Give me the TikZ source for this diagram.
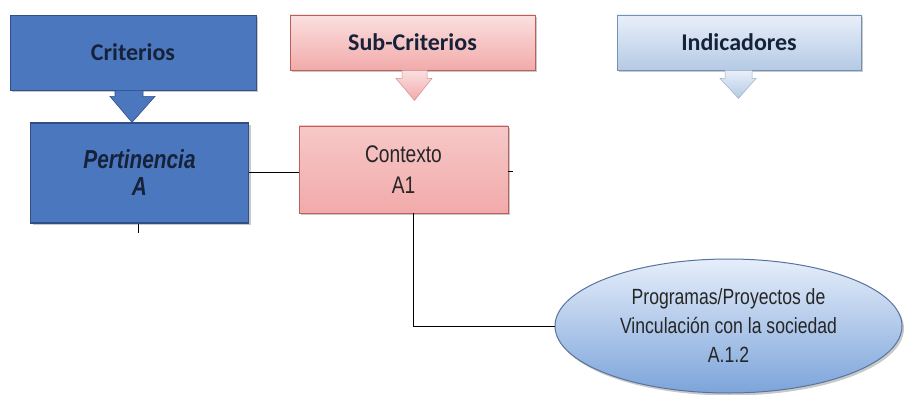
\documentclass[tikz,border=0pt]{standalone}
\usepackage{fontspec}
\setmainfont{Liberation Sans}
\newfontfamily\arialn[FakeStretch=0.8]{Liberation Sans}
\newfontfamily\calib{Carlito}
\usetikzlibrary{shadows,shapes.geometric,calc}

\definecolor{critfill}{HTML}{4B77BE}
\definecolor{critdraw}{HTML}{2F4F86}
\definecolor{navytext}{HTML}{16223A}
\definecolor{pinktop}{HTML}{FBE0E0}
\definecolor{pinkbot}{HTML}{F2AAAA}
\definecolor{pinkdraw}{HTML}{B9605C}
\definecolor{bluetop}{HTML}{E8EFF9}
\definecolor{bluebot}{HTML}{B5CAE5}
\definecolor{bluedraw}{HTML}{7590B5}
\definecolor{elltop}{HTML}{E6EEFA}
\definecolor{ellbot}{HTML}{7CA4DA}
\definecolor{elldraw}{HTML}{5873A0}

\tikzset{
  softshadow/.style={drop shadow={shadow xshift=2pt,shadow yshift=-2.5pt,opacity=.35,fill=black!60}},
  header/.style={rectangle,inner sep=0pt,font=\calib\bfseries\fontsize{24}{28}\selectfont,text=navytext,softshadow,line width=0.8pt},
  critstyle/.style={header,fill=critfill,draw=critdraw},
  substyle/.style={header,shading=axis,top color=pinktop,bottom color=pinkbot,draw=pinkdraw},
  indstyle/.style={header,shading=axis,top color=bluetop,bottom color=bluebot,draw=bluedraw},
  critarrow/.style={fill=critfill,draw=critdraw,line width=0.6pt},
  subarrow/.style={shading=axis,top color=pinktop,bottom color=pinkbot,draw=pinkdraw!70,line width=0.5pt},
  indarrow/.style={shading=axis,top color=bluetop,bottom color=bluebot,draw=bluedraw!70,line width=0.5pt},
  pertbox/.style={rectangle,fill=critfill,draw=critdraw,line width=1.4pt,softshadow,align=center,
    font=\arialn\bfseries\itshape\fontsize{26}{27}\selectfont,text=navytext},
  ctxbox/.style={rectangle,shading=axis,top color=pinktop!55!pinkbot,bottom color=pinkbot,draw=pinkdraw,line width=0.8pt,
    softshadow,align=center,font=\arialn\fontsize{24}{31}\selectfont,text=black!85},
  indell/.style={ellipse,shading=axis,top color=elltop,bottom color=ellbot,draw=elldraw,line width=1pt,
    softshadow,align=center,font=\arialn\fontsize{22}{29}\selectfont,text=black!85,inner sep=0pt},
  link/.style={draw=black,line width=1pt}
}

\begin{document}
\begin{tikzpicture}[x=1pt,y=-1pt]
\useasboundingbox[fill=white] (0,0) rectangle (909,395);

% column headers
\node[critstyle,minimum width=246pt,minimum height=75pt] (crit) at (133,52.5) {Criterios};
\node[substyle,minimum width=245pt,minimum height=55pt] (sub) at (412.5,42.5) {Sub-Criterios};
\node[indstyle,minimum width=244pt,minimum height=55pt] (ind) at (739,42.5) {Indicadores};

% block arrows under the headers
\path[critarrow] ($(crit.south)+(-18,0)$) -- ++(0,6) -- ++(-5,0) -- ($(crit.south)+(-1,32)$)
  -- ($(crit.south)+(22,6)$) -- ++(-12,0) -- ++(0,-6) -- cycle;
\path[subarrow] ($(sub.south)+(-10.5,0)$) -- ++(0,8) -- ++(-6,0) -- ($(sub.south)+(2,30)$)
  -- ($(sub.south)+(19.5,8)$) -- ++(-5,0) -- ++(0,-8) -- cycle;
\path[indarrow] ($(ind.south)+(-14,0)$) -- ++(0,8) -- ++(-5,0) -- ($(ind.south)+(-0.5,28)$)
  -- ($(ind.south)+(17,8)$) -- ++(-4,0) -- ++(0,-8) -- cycle;

% criterion, sub-criterion and indicator
\node[pertbox,minimum width=218pt,minimum height=100pt] (pert) at (139.5,173) {Pertinencia\\A};
\node[ctxbox,minimum width=209pt,minimum height=87pt] (ctx) at (403.5,169.5) {Contexto\\A1};
\node[indell,minimum width=347pt,minimum height=134pt] (ell) at (728.5,326)
  {Programas/Proyectos de\\Vinculación con la sociedad\\A.1.2};

% connectors
\coordinate (pertstub) at (138,233);
\coordinate (ctxstub) at (513,172);
\draw[link] (pert.east) -- (pert.east -| ctx.west);
\draw[link] (ctx.east |- ctxstub) -- (ctxstub);
\draw[link] (pert.south -| pertstub) -- (pertstub);
\draw[link] ([xshift=9.5pt]ctx.south) |- (ell.west);
\end{tikzpicture}
\end{document}
